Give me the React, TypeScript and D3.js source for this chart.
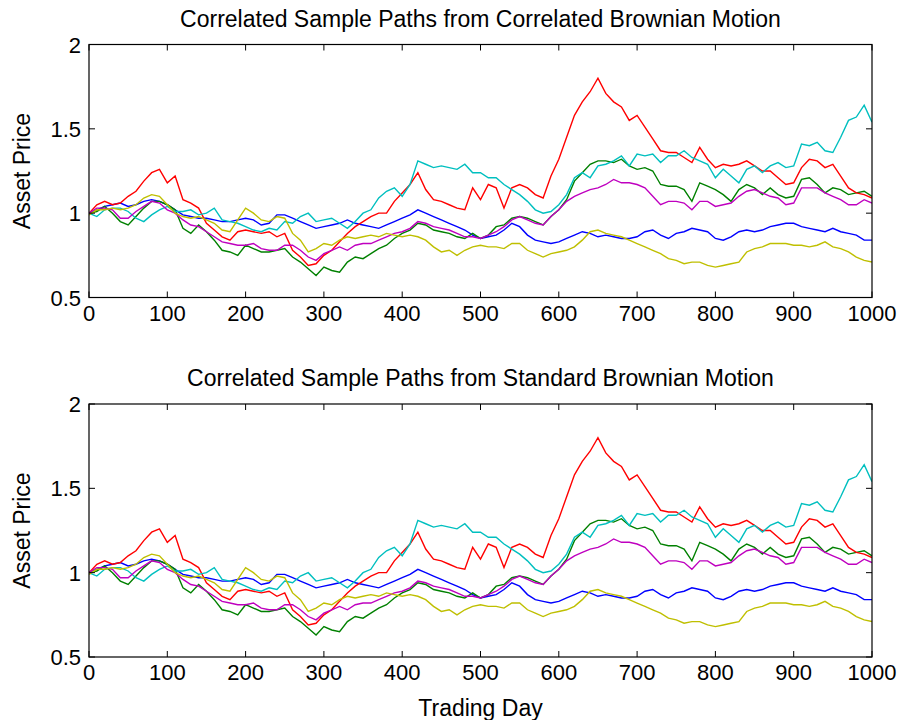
import React from "react";
import * as d3 from "d3";

const days: number[] = Array.from({ length: 101 }, (_, i) => i * 10);

const blue = [1.00,1.02,1.04,1.05,1.06,1.04,1.05,1.07,1.08,1.07,1.05,1.02,0.99,0.98,0.97,0.97,0.96,0.95,0.95,0.96,0.97,0.96,0.93,0.94,0.99,0.99,0.97,0.95,0.93,0.91,0.92,0.93,0.94,0.96,0.94,0.93,0.92,0.91,0.93,0.95,0.97,0.99,1.02,1.00,0.98,0.96,0.94,0.92,0.90,0.87,0.85,0.86,0.87,0.90,0.94,0.92,0.87,0.84,0.83,0.82,0.83,0.85,0.87,0.89,0.88,0.86,0.87,0.86,0.85,0.85,0.86,0.89,0.90,0.87,0.85,0.88,0.89,0.91,0.90,0.89,0.85,0.84,0.86,0.89,0.90,0.89,0.90,0.92,0.93,0.94,0.94,0.92,0.91,0.90,0.89,0.91,0.89,0.88,0.87,0.84,0.84];
const green = [1.00,1.01,1.04,1.00,0.95,0.93,0.98,1.03,1.07,1.07,1.05,1.02,0.91,0.88,0.93,0.89,0.84,0.78,0.77,0.75,0.81,0.79,0.77,0.77,0.78,0.79,0.74,0.71,0.67,0.63,0.68,0.66,0.65,0.71,0.74,0.73,0.76,0.79,0.81,0.85,0.88,0.90,0.94,0.93,0.90,0.89,0.88,0.86,0.85,0.88,0.85,0.87,0.92,0.93,0.97,0.98,0.97,0.95,0.93,0.98,1.02,1.08,1.19,1.24,1.29,1.31,1.31,1.30,1.32,1.28,1.26,1.27,1.25,1.17,1.16,1.16,1.14,1.07,1.18,1.16,1.14,1.11,1.07,1.14,1.17,1.15,1.11,1.15,1.11,1.09,1.10,1.20,1.21,1.17,1.12,1.15,1.14,1.11,1.12,1.13,1.10];
const red = [1.00,1.05,1.07,1.05,1.06,1.10,1.13,1.19,1.24,1.26,1.18,1.22,1.08,1.06,1.03,0.94,0.90,0.86,0.84,0.89,0.90,0.89,0.88,0.89,0.86,0.88,0.78,0.74,0.69,0.70,0.75,0.78,0.83,0.88,0.92,0.95,0.98,1.00,1.00,1.07,1.12,1.17,1.24,1.14,1.08,1.07,1.05,1.03,1.02,1.15,1.08,1.17,1.15,1.03,1.15,1.17,1.15,1.11,1.09,1.22,1.32,1.45,1.58,1.66,1.72,1.80,1.71,1.66,1.63,1.55,1.58,1.51,1.44,1.37,1.36,1.36,1.33,1.30,1.39,1.32,1.27,1.29,1.28,1.29,1.31,1.28,1.25,1.25,1.21,1.17,1.18,1.27,1.32,1.31,1.27,1.29,1.22,1.15,1.12,1.11,1.09];
const cyan = [1.00,0.98,1.02,1.03,1.03,1.01,0.97,0.95,0.99,1.02,1.04,1.01,1.01,1.02,0.99,1.00,1.03,0.96,0.95,0.94,0.92,0.90,0.89,0.91,0.90,0.95,0.94,0.98,1.00,0.95,0.96,0.97,0.94,0.91,0.95,1.00,1.02,1.09,1.13,1.15,1.10,1.17,1.31,1.29,1.27,1.28,1.27,1.26,1.29,1.24,1.24,1.21,1.21,1.17,1.14,1.11,1.07,1.02,1.00,1.01,1.05,1.11,1.21,1.24,1.21,1.28,1.29,1.31,1.34,1.28,1.35,1.34,1.35,1.30,1.34,1.34,1.37,1.33,1.31,1.29,1.21,1.26,1.22,1.18,1.26,1.28,1.24,1.28,1.30,1.27,1.28,1.41,1.40,1.42,1.37,1.36,1.45,1.55,1.57,1.64,1.54];
const magenta = [1.00,1.03,1.03,1.02,0.97,0.97,1.01,1.04,1.07,1.06,1.02,1.00,0.96,0.93,0.92,0.89,0.86,0.83,0.82,0.81,0.81,0.82,0.79,0.78,0.78,0.81,0.81,0.78,0.74,0.72,0.76,0.78,0.80,0.78,0.81,0.82,0.82,0.84,0.86,0.88,0.89,0.91,0.95,0.94,0.92,0.91,0.90,0.88,0.86,0.86,0.85,0.87,0.89,0.92,0.96,0.98,0.96,0.94,0.93,0.98,1.02,1.07,1.10,1.12,1.14,1.15,1.17,1.20,1.18,1.18,1.17,1.15,1.10,1.05,1.07,1.07,1.06,1.02,1.07,1.07,1.04,1.05,1.06,1.10,1.13,1.14,1.12,1.10,1.09,1.05,1.06,1.15,1.15,1.15,1.12,1.10,1.08,1.05,1.05,1.08,1.06];
const yellow = [0.99,1.02,1.02,1.03,1.02,1.03,1.05,1.09,1.11,1.10,1.05,1.00,0.98,0.97,0.98,0.96,0.94,0.90,0.89,0.96,1.03,1.00,0.96,0.95,0.98,0.97,0.88,0.84,0.77,0.79,0.82,0.81,0.84,0.86,0.85,0.86,0.87,0.86,0.88,0.87,0.86,0.87,0.86,0.84,0.80,0.77,0.78,0.75,0.78,0.80,0.81,0.80,0.80,0.79,0.82,0.82,0.78,0.76,0.74,0.76,0.77,0.78,0.80,0.84,0.89,0.90,0.88,0.87,0.86,0.84,0.82,0.80,0.78,0.76,0.73,0.72,0.70,0.71,0.71,0.69,0.68,0.69,0.70,0.71,0.77,0.79,0.80,0.82,0.82,0.82,0.81,0.81,0.80,0.81,0.83,0.80,0.79,0.77,0.74,0.72,0.71];

const seriesList = [
  { name: "blue", color: "#0000FF", values: blue },
  { name: "green", color: "#008000", values: green },
  { name: "red", color: "#FF0000", values: red },
  { name: "cyan", color: "#00BFBF", values: cyan },
  { name: "magenta", color: "#BF00BF", values: magenta },
  { name: "yellow", color: "#BFBF00", values: yellow },
];

const xTicks = [0, 100, 200, 300, 400, 500, 600, 700, 800, 900, 1000];
const yTicks = [0.5, 1, 1.5, 2];
const titles = [
  "Correlated Sample Paths from Correlated Brownian Motion",
  "Correlated Sample Paths from Standard Brownian Motion",
];

const FONT = "'Liberation Sans', Arial, Helvetica, sans-serif";
const left = 89;
const right = 872;
const plotH = 253;
const tops = [44.5, 404];

function Panel({ top, title, showXLabel }: { top: number; title: string; showXLabel: boolean }) {
  const x = d3.scaleLinear().domain([0, 1000]).range([left, right]);
  const y = d3.scaleLinear().domain([0.5, 2]).range([top + plotH, top]);
  const line = d3
    .line<number>()
    .x((_, i) => x(days[i]))
    .y((d) => y(d));
  const tl = 6;
  return (
    <g>
      <defs>
        <clipPath id={`clip${Math.round(top)}`}>
          <rect x={left} y={top} width={right - left} height={plotH} />
        </clipPath>
      </defs>
      <g clipPath={`url(#clip${Math.round(top)})`}>
        {seriesList.map((s) => (
          <path key={s.name} d={line(s.values) || ""} fill="none" stroke={s.color} strokeWidth={1.4} />
        ))}
      </g>
      <rect x={left} y={top} width={right - left} height={plotH} fill="none" stroke="#000" strokeWidth={1.2} />
      {xTicks.map((t) => (
        <g key={`x${t}`}>
          <line x1={x(t)} x2={x(t)} y1={top + plotH} y2={top + plotH - tl} stroke="#000" strokeWidth={1} />
          <line x1={x(t)} x2={x(t)} y1={top} y2={top + tl} stroke="#000" strokeWidth={1} />
          <text x={x(t)} y={top + plotH + 23} textAnchor="middle" fontSize={22} fontFamily={FONT} fill="#000">
            {t}
          </text>
        </g>
      ))}
      {yTicks.map((t) => (
        <g key={`y${t}`}>
          <line x1={left} x2={left + tl} y1={y(t)} y2={y(t)} stroke="#000" strokeWidth={1} />
          <line x1={right} x2={right - tl} y1={y(t)} y2={y(t)} stroke="#000" strokeWidth={1} />
          <text x={left - 8} y={y(t) + 8} textAnchor="end" fontSize={22} fontFamily={FONT} fill="#000">
            {t}
          </text>
        </g>
      ))}
      <text x={(left + right) / 2} y={top - 18} textAnchor="middle" fontSize={23} fontFamily={FONT} fill="#000">
        {title}
      </text>
      <text
        transform={`translate(30, ${top + plotH / 2}) rotate(-90)`}
        textAnchor="middle"
        fontSize={23}
        fontFamily={FONT}
        fill="#000"
      >
        Asset Price
      </text>
      {showXLabel && (
        <text x={(left + right) / 2} y={top + plotH + 59} textAnchor="middle" fontSize={23} fontFamily={FONT} fill="#000">
          Trading Day
        </text>
      )}
    </g>
  );
}

export default function App() {
  return (
    <svg
      width={902}
      height={720}
      style={{ position: "absolute", left: 0, top: 0, background: "#fff" }}
    >
      <rect x={0} y={0} width={902} height={720} fill="#fff" />
      {tops.map((t, i) => (
        <Panel key={i} top={t} title={titles[i]} showXLabel={i === 1} />
      ))}
    </svg>
  );
}
